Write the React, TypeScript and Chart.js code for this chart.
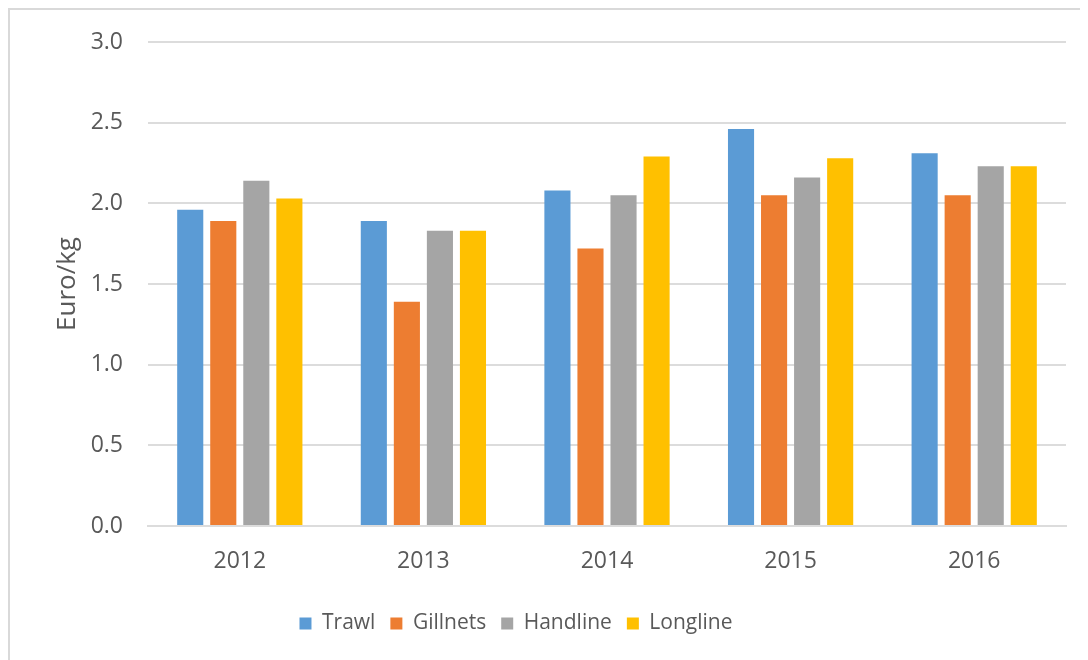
import React, { useEffect, useRef } from "react";
import { Chart, registerables } from "chart.js";

Chart.register(...registerables);

// Average first-sale price by gear type and year
const years = ["2012", "2013", "2014", "2015", "2016"];
const trawl = [1.96, 1.89, 2.08, 2.46, 2.31];
const gillnets = [1.89, 1.39, 1.72, 2.05, 2.05];
const handline = [2.14, 1.83, 2.05, 2.16, 2.23];
const longline = [2.03, 1.83, 2.29, 2.28, 2.23];
const yTicks = [0, 0.5, 1.0, 1.5, 2.0, 2.5, 3.0];

const TEXT = "#595959";
const GRID = "#dcdcdc";
const FONT = "'Open Sans', 'Noto Sans', sans-serif";

// Nudge the legend a little left of the canvas centre
const legendShift = {
  id: "legendShift",
  afterLayout(chart: any) {
    const l = chart.legend;
    if (l) {
      l.left -= 22;
      l.right -= 22;
    }
  },
};

export default function App() {
  const canvasRef = useRef<HTMLCanvasElement | null>(null);

  useEffect(() => {
    const canvas = canvasRef.current;
    if (!canvas) return;
    const mk = (label: string, data: number[], color: string) => ({
      label,
      data,
      backgroundColor: color,
      borderWidth: 0,
      categoryPercentage: 0.72,
      barPercentage: 0.79,
    });
    const chart = new Chart(canvas, {
      type: "bar",
      data: {
        labels: years,
        datasets: [
          mk("Trawl", trawl, "#5B9BD5"),
          mk("Gillnets", gillnets, "#ED7D31"),
          mk("Handline", handline, "#A5A5A5"),
          mk("Longline", longline, "#FFC000"),
        ],
      },
      plugins: [legendShift],
      options: {
        animation: false,
        responsive: false,
        layout: { padding: { top: 32, right: 22, bottom: 16, left: 0 } },
        plugins: {
          tooltip: { enabled: false },
          legend: {
            position: "bottom",
            labels: {
              boxWidth: 12,
              boxHeight: 12,
              padding: 15,
              color: TEXT,
              font: { family: FONT, size: 21 },
            },
          },
        },
        scales: {
          x: {
            grid: { display: false, drawTicks: false },
            border: { display: true, color: GRID, width: 2 },
            ticks: {
              color: TEXT,
              padding: 22,
              font: { family: FONT, size: 23 },
            },
            afterFit: (scale: any) => {
              scale.height = 72;
            },
          },
          y: {
            min: 0,
            max: 3,
            afterBuildTicks: (scale: any) => {
              scale.ticks = yTicks.map((v) => ({ value: v }));
            },
            afterFit: (scale: any) => {
              scale.width = 138;
              scale.paddingTop = 0;
              scale.paddingBottom = 0;
            },
            grid: { color: GRID, lineWidth: 2, drawTicks: false },
            border: { display: false },
            ticks: {
              color: TEXT,
              padding: 25,
              font: { family: FONT, size: 23 },
              callback: (v: any) => Number(v).toFixed(1),
            },
            title: {
              display: true,
              text: "Euro/kg",
              color: TEXT,
              padding: { top: 42, bottom: 0 },
              font: { family: FONT, size: 26 },
            },
          },
        },
      },
    });
    return () => chart.destroy();
  }, []);

  return (
    <div
      style={{
        width: 1078,
        height: 650,
        borderLeft: "2px solid #d9d9d9",
        borderTop: "2px solid #d9d9d9",
        background: "#fff",
        overflow: "hidden",
      }}
    >
      <canvas ref={canvasRef} width={1078} height={650} style={{ display: "block" }} />
    </div>
  );
}
